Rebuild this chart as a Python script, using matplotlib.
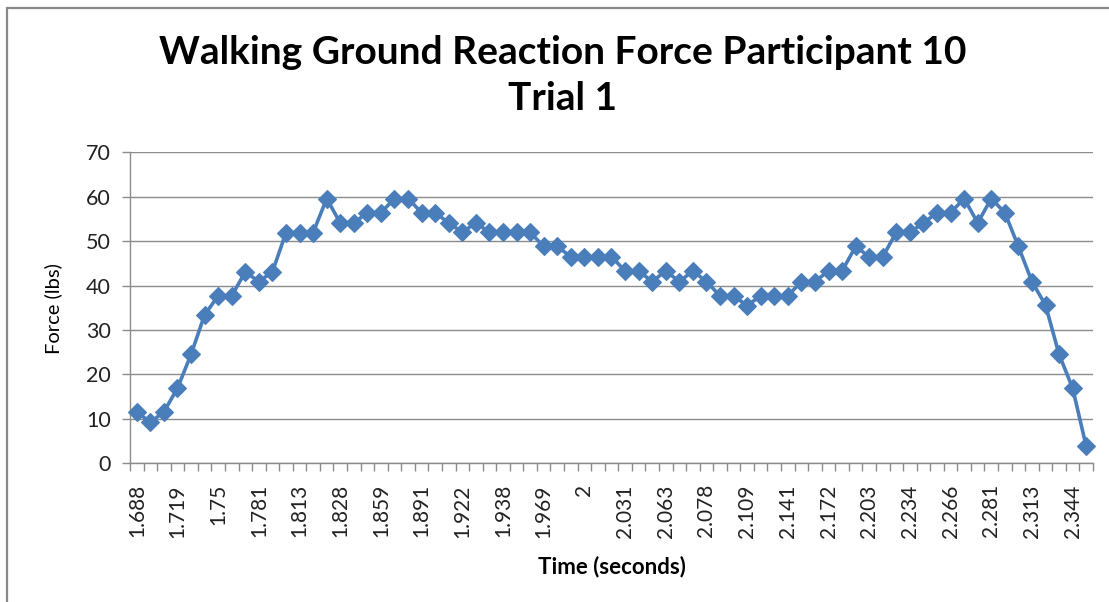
import matplotlib
matplotlib.use('Agg')
import matplotlib.pyplot as plt
import matplotlib.patches as mpatches
import numpy as np

# Force readings (lbs), one per sample
force_lbs = [
    11.6, 9.2, 11.6, 16.9, 24.5, 33.4, 37.7, 37.7, 43.1, 40.9,
    43.1, 51.9, 51.9, 51.9, 59.6, 54.1, 54.1, 56.4, 56.4, 59.6,
    59.6, 56.4, 56.4, 54.1, 52.0, 54.1, 52.0, 52.0, 52.0, 52.0,
    48.8, 48.8, 46.5, 46.5, 46.5, 46.5, 43.3, 43.3, 40.9, 43.3,
    40.9, 43.3, 40.9, 37.7, 37.7, 35.5, 37.7, 37.7, 37.7, 40.9,
    40.9, 43.3, 43.3, 48.8, 46.5, 46.5, 52.0, 52.0, 54.1, 56.4,
    56.4, 59.6, 54.1, 59.6, 56.4, 48.8, 40.9, 35.6, 24.5, 16.9,
    3.8,
]

# every third sample carries a time label on the axis
time_labels = [
    '1.688', '1.719', '1.75', '1.781', '1.813', '1.828', '1.859', '1.891',
    '1.922', '1.938', '1.969', '2', '2.031', '2.063', '2.078', '2.109',
    '2.141', '2.172', '2.203', '2.234', '2.266', '2.281', '2.313', '2.344',
]
label_step = 3

y_ticks = [0, 10, 20, 30, 40, 50, 60, 70]

plt.rcParams['font.family'] = ['Lato', 'DejaVu Sans']

blue = '#4A7EBB'
grid_grey = '#8C8C8C'

fig = plt.figure(figsize=(11.09, 6.02), dpi=100)
ax = fig.add_axes([130 / 1109, 1 - 463.3 / 602, 963 / 1109, 311 / 602])

x = np.arange(len(force_lbs))
ax.plot(x, force_lbs, color=blue, linewidth=2.6, marker='D',
        markersize=8.8, markerfacecolor=blue, markeredgecolor=blue,
        markeredgewidth=0.8, zorder=3, clip_on=False)

# ---- axes styling (Excel look) -------------------------------------
ax.set_xlim(-0.5, len(force_lbs) - 0.5)
ax.set_ylim(0, 70)
ax.set_yticks(y_ticks)
ax.yaxis.grid(True, color=grid_grey, linewidth=1.0)
ax.set_axisbelow(True)

for side in ('top', 'right'):
    ax.spines[side].set_visible(False)
for side in ('left', 'bottom'):
    ax.spines[side].set_color(grid_grey)
    ax.spines[side].set_linewidth(1.0)

ax.set_xticks(x[::label_step])
ax.set_xticklabels(time_labels, rotation=90, va='top', ha='center')
ax.set_xticks(np.arange(len(force_lbs) + 1) - 0.5, minor=True)
ax.tick_params(axis='x', which='major', length=0, pad=15, labelsize=15,
               labelcolor='#222222')
ax.tick_params(axis='x', which='minor', length=5.5, width=1.0,
               color=grid_grey, direction='out')
ax.tick_params(axis='y', length=6, width=1.0, color=grid_grey, pad=8,
               labelsize=15.5, labelcolor='#222222')

fig.text(53 / 1109, 1 - 309 / 602, 'Force (lbs)', ha='center',
         va='center', rotation=90, fontsize=14.5)
fig.text(612 / 1109, 1 - 567 / 602, 'Time (seconds)', ha='center',
         va='center', fontsize=16, fontweight='bold')

fig.text(0.507, 1 - 52 / 602, 'Walking Ground Reaction Force Participant 10',
         ha='center', va='center', fontsize=28, fontweight='bold')
fig.text(0.507, 1 - 99 / 602, 'Trial 1', ha='center', va='center',
         fontsize=28, fontweight='bold')

# chart frame (cropped at right and bottom in the original)
fig.patches.append(mpatches.Rectangle(
    (7 / 1109, -0.1), 1.2, 1.1 - 8 / 602, transform=fig.transFigure,
    fill=False, edgecolor='#888888', linewidth=1.6))

fig.savefig('out.png', dpi=100)
